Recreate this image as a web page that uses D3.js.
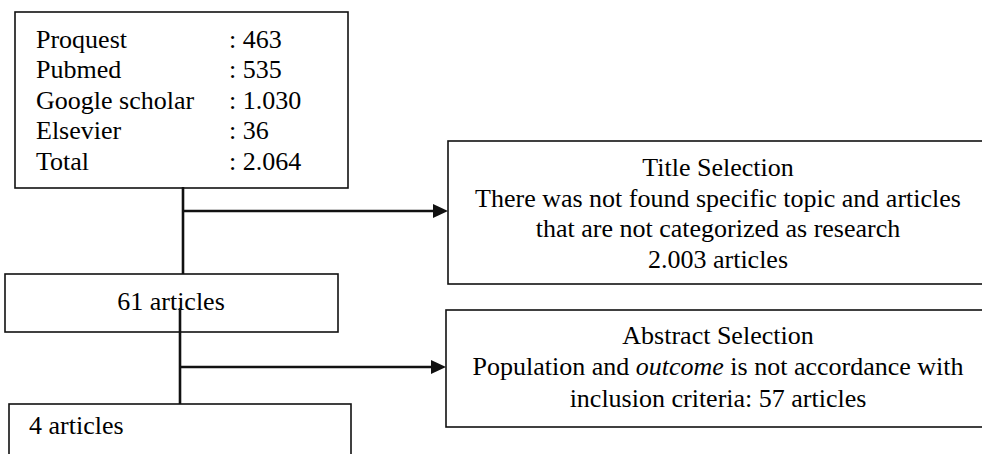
<!DOCTYPE html>
<html>
<head>
<meta charset="utf-8">
<script src="https://cdn.jsdelivr.net/npm/d3@7"></script>
<style>
  body { margin: 0; background: #fff; }
  svg { display: block; }
  text { font-family: "Liberation Serif", "Times New Roman", Times, serif; font-size: 26px; fill: #000; }
</style>
</head>
<body>
<svg width="982" height="454"></svg>
<script>
// dati del diagramma
var sources = ["Proquest", "Pubmed", "Google scholar", "Elsevier", "Total"],
	counts = ["463", "535", "1.030", "36", "2.064"],
	afterTitle = "61 articles",
	afterAbstract = "4 articles",
	// righe dei box di esclusione; ogni riga e' una lista di pezzi [testo, corsivo]
	titleLines = [
		[["Title Selection", false]],
		[["There was not found specific topic and articles", false]],
		[["that are not categorized as research", false]],
		[["2.003 articles", false]]
	],
	abstractLines = [
		[["Abstract Selection", false]],
		[["Population and ", false], ["outcome", true], [" is not accordance with", false]],
		[["inclusion criteria: 57 articles", false]]
	];

var svg = d3.select("svg");

// box: rettangoli con bordo sottile
function box(x, y, w, h) {
	svg.append("rect")
		.attr("x", x).attr("y", y)
		.attr("width", w).attr("height", h)
		.attr("fill", "#fff")
		.attr("stroke", "#111")
		.attr("stroke-width", 1.6);
}

// connettori piu' spessi
var link = d3.line();
function connector(pts) {
	svg.append("path")
		.attr("d", link(pts))
		.attr("fill", "none")
		.attr("stroke", "#111")
		.attr("stroke-width", 2.6);
}
function arrowHead(x, y) {
	svg.append("path")
		.attr("d", link([[x, y], [x - 15, y - 7], [x - 15, y + 7]]) + "Z")
		.attr("fill", "#111");
}

// box delle fonti
box(15, 12, 333, 176);
var rows = d3.scaleBand().domain(d3.range(sources.length)).range([24, 177]);
svg.selectAll("text.src").data(sources).join("text")
	.attr("class", "src")
	.attr("x", 36)
	.attr("y", (d, i) => rows(i) + rows.bandwidth() - 7)
	.text(d => d);
svg.selectAll("text.cnt").data(counts).join("text")
	.attr("class", "cnt")
	.attr("x", 229)
	.attr("y", (d, i) => rows(i) + rows.bandwidth() - 7)
	.text(d => ": " + d);

// box di esclusione (titolo) - esce a destra dall'immagine
box(448, 141, 560, 143);
// box di esclusione (abstract)
box(446, 310, 560, 117);

function centeredLines(lines, cx, y0, step) {
	lines.forEach(function(parts, i) {
		var t = svg.append("text")
			.attr("x", cx)
			.attr("y", y0 + i * step)
			.attr("text-anchor", "middle");
		parts.forEach(function(p) {
			t.append("tspan").attr("font-style", p[1] ? "italic" : null).text(p[0]);
		});
	});
}
centeredLines(titleLines, 718, 176, 30.6);
centeredLines(abstractLines, 718, 344, 31.3);

// box 61 articles
box(5, 274, 333, 58);
svg.append("text").attr("x", 171).attr("y", 310).attr("text-anchor", "middle").text(afterTitle);

// box 4 articles
box(9, 404, 342, 70);
svg.append("text").attr("x", 29).attr("y", 434).text(afterAbstract);

// connettori e frecce
connector([[183, 187], [183, 274]]);
connector([[183, 211], [434, 211]]);
arrowHead(448, 211);

connector([[180, 308], [180, 404]]);
connector([[180, 367], [432, 367]]);
arrowHead(446, 367);
</script>
</body>
</html>
